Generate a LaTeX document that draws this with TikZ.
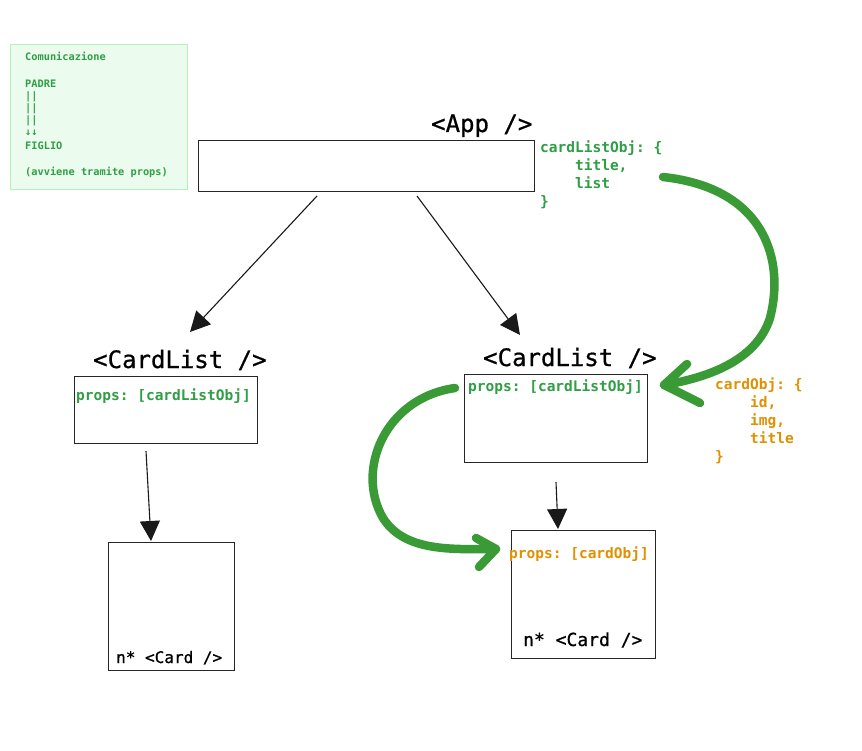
\documentclass[tikz,border=0pt]{standalone}
\usepackage{fontspec}
\setmonofont{DejaVu Sans Mono}
\newfontfamily\titlefont{DejaVu Sans Mono}[FakeBold=0.8]
\usetikzlibrary{arrows.meta}
\definecolor{gr}{HTML}{2F9E44}
\definecolor{ga}{HTML}{3A9A36}
\definecolor{org}{HTML}{E09000}
\definecolor{notefill}{HTML}{EBFBEE}
\definecolor{noteline}{HTML}{B2F2BB}
\tikzset{
  box/.style={draw=black!85, line width=1.3pt, anchor=north west, inner sep=0pt},
  title/.style={font=\titlefont\fontsize{24}{24}\selectfont, anchor=base west, inner sep=0pt},
  code/.style={font=\ttfamily\bfseries\fontsize{14.5}{18}\selectfont, anchor=base west, inner sep=0pt},
  ncode/.style={font=\ttfamily\bfseries\fontsize{10.3}{12}\selectfont, text=gr, anchor=base west, inner sep=0pt},
  conn/.style={draw=black!90, line width=1.1pt, -{Triangle[length=20pt,width=20pt]}},
  greenarrow/.style={draw=ga, line width=8.5pt, line cap=round, line join=round},
}
\begin{document}
\begin{tikzpicture}[x=1pt,y=-1pt]
\useasboundingbox (0,0) rectangle (862,751);
\fill[white] (0,0) rectangle (862,751);
% note
\node[draw=noteline, fill=notefill, line width=1.2pt, minimum width=177pt, minimum height=145pt, anchor=north west] (note) at (10,44) {};
\node[ncode] (n1) at (25,61) {Comunicazione};
\node[ncode] (n2) at (25,88) {PADRE};
\node[ncode] (n3) at (25,100) {||};
\node[ncode] (n4) at (25,112) {||};
\node[ncode] (n5) at (25,124) {||};
\node[ncode] (n6) at (25,136) {↓↓};
\node[ncode] (n7) at (25,150) {FIGLIO};
\node[ncode] (n8) at (25,176) {(avviene tramite props)};
% App
\node[title] (apptitle) at (431,132) {<App /{}>};
\node[box, minimum width=336pt, minimum height=51pt] (app) at (198,140) {};
\node[code, text=gr, align=left, anchor=north west] (clo) at (540,141) {cardListObj: \{\\\hspace*{4.4ex}title,\\\hspace*{4.4ex}list\\\}};
% CardList left
\node[title] (cl1title) at (93,368) {<CardList /{}>};
\node[box, minimum width=183pt, minimum height=67pt] (cl1) at (74,376) {};
\node[code, text=gr] (cl1p) at (76,400) {props: [cardListObj]};
% CardList right
\node[title] (cl2title) at (483,366) {<CardList /{}>};
\node[box, minimum width=183pt, minimum height=88pt] (cl2) at (464,374) {};
\node[code, text=gr] (cl2p) at (468,391) {props: [cardListObj]};
% cardObj
\node[code, text=org, align=left, anchor=north west] (co) at (715,378) {cardObj: \{\\\hspace*{4.4ex}id,\\\hspace*{4.4ex}img,\\\hspace*{4.4ex}title\\\}};
% Cards
\node[box, minimum width=126pt, minimum height=128pt] (card1) at (108,542) {};
\node[font=\titlefont\fontsize{16}{16}\selectfont, anchor=base west, inner sep=0pt] (card1t) at (116,663) {n* <Card /{}>};
\node[box, minimum width=144pt, minimum height=128pt] (card2) at (511,530) {};
\node[code, text=org] (card2p) at (509,558) {props: [cardObj]};
\node[font=\titlefont\fontsize{18}{18}\selectfont, anchor=base west, inner sep=0pt] (card2t) at (523,646) {n* <Card /{}>};
% connectors
\coordinate (a1s) at (317,196);
\coordinate (a1e) at (190,332);
\coordinate (a2s) at (417,196);
\coordinate (a2e) at (520,335);
\coordinate (a3s) at (146,451);
\coordinate (a3e) at (151,541);
\coordinate (a4s) at (556,482);
\coordinate (a4e) at (558,529);
\draw[conn] (a1s) -- (a1e);
\draw[conn] (a2s) -- (a2e);
\draw[conn] (a3s) -- (a3e);
\draw[conn] (a4s) -- (a4e);
% green arrows
\coordinate (g1s) at (663,177);
\coordinate (g1e) at (664,385);
\draw[greenarrow] (g1s) .. controls (765,188) and (785,260) .. (770,318) .. controls (756,362) and (705,378) .. (g1e);
\draw[greenarrow] (687,364) -- (g1e) -- (700,403);
\coordinate (g2s) at (455,388);
\coordinate (g2e) at (496,549);
\draw[greenarrow] (g2s) .. controls (385,398) and (355,470) .. (383,518) .. controls (405,553) and (455,549) .. (g2e);
\draw[greenarrow] (476,538) -- (g2e) -- (479,567);
\end{tikzpicture}
\end{document}
